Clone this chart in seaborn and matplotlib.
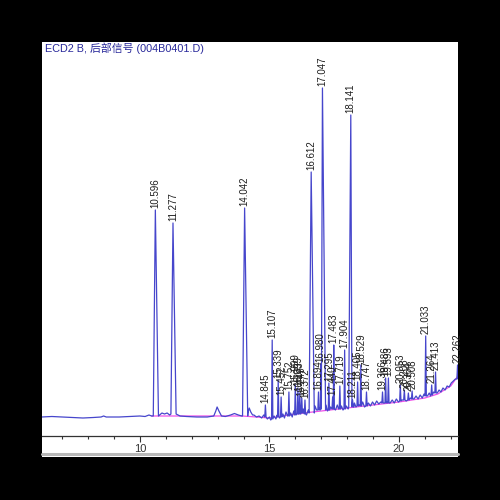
import matplotlib
matplotlib.use('Agg')
import matplotlib.pyplot as plt
from matplotlib.lines import Line2D
from matplotlib.patches import Rectangle
from matplotlib.ticker import MultipleLocator
import numpy as np
import pandas as pd
import seaborn as sns

# integrated peaks: retention time, apex signal, local baseline signal
peak_rt = [10.596, 11.277, 14.042, 14.845, 15.107, 15.339, 15.452, 15.752, 15.999,
           16.099, 16.173, 16.249, 16.372, 16.612, 16.894, 16.980, 17.047, 17.295,
           17.440, 17.483, 17.719, 17.904, 18.141, 18.211, 18.405, 18.529, 18.747,
           19.366, 19.486, 19.593, 20.053, 20.208, 20.364, 20.508, 21.033, 21.264,
           21.413, 22.262]
peak_top = [226, 213, 228, 31, 96, 56, 39, 44, 51,
            48, 43, 38, 36, 264, 44, 72, 348, 53,
            39, 91, 50, 86, 321, 36, 54, 71, 44,
            44, 58, 58, 51, 46, 43, 45, 100, 51,
            64, 71]
peak_foot = [20, 22, 20, 19, 17, 19, 19, 20, 21,
             22, 22, 23, 22, 23, 26, 27, 26, 26,
             27, 27, 27, 27, 29, 29, 30, 30, 30,
             33, 33, 33, 35, 36, 36, 37, 40, 41,
             43, 57]

# detector trace between the peaks
base_t = [6.20, 6.60, 7.00, 7.40, 7.80, 8.20, 8.50, 8.60, 8.70, 9.20, 9.60, 10.00,
          10.20, 10.35, 10.45, 10.85, 10.95, 11.05, 11.15, 11.55, 11.80, 12.20, 12.60,
          12.85, 12.93, 12.98, 13.05, 13.15, 13.30, 13.50, 13.65, 13.80, 13.93,
          14.17, 14.22, 14.28, 14.35, 14.40, 14.50, 14.60, 14.70, 14.78, 14.92,
          15.00, 15.05, 15.18, 15.25, 15.30, 15.39, 15.52, 15.58, 15.64, 15.70,
          15.82, 15.88, 15.94, 16.05, 16.14, 16.21, 16.31, 16.43, 16.50, 16.56,
          16.70, 16.76, 16.82, 16.94, 17.12, 17.18, 17.24, 17.36, 17.55, 17.62,
          17.67, 17.78, 17.84, 17.97, 18.04, 18.28, 18.34, 18.47, 18.60, 18.67,
          18.82, 18.90, 18.98, 19.06, 19.14, 19.22, 19.30, 19.42, 19.54, 19.66,
          19.74, 19.82, 19.90, 19.98, 20.12, 20.28, 20.44, 20.58, 20.66, 20.74,
          20.82, 20.90, 20.97, 21.10, 21.17, 21.22, 21.34, 21.48, 21.55, 21.62,
          21.70, 21.78, 21.86, 21.94, 22.02, 22.10, 22.18, 22.33]
base_v = [19, 19.5, 19, 18.5, 18, 18.5, 19, 20, 19, 19, 19.5, 20,
          19.5, 21, 20, 23, 22, 23, 21, 20, 19.5, 19, 19,
          20, 25, 29, 25, 20, 19.5, 21, 22.5, 21, 20,
          23, 28, 24, 21, 21, 19, 20, 18, 21, 17,
          19, 16, 20, 17, 21, 18, 22, 18, 24, 20,
          23, 19, 25, 22, 26, 22, 27, 21, 26, 23,
          25, 30, 26, 28, 27, 31, 25, 29, 26, 31,
          27, 30, 26, 30, 27, 33, 29, 31, 34, 29,
          33, 30, 34, 31, 35, 32, 34, 33, 34, 33,
          36, 33, 37, 34, 36, 35, 38, 37, 40, 37,
          41, 38, 42, 40, 43, 40, 44, 43, 46, 44,
          48, 46, 50, 49, 53, 55, 57, 64]

# integration baseline (magenta)
integ_t = [10.45, 11.55, 13.95, 14.50, 15.00, 16.00, 17.00, 18.00, 19.00,
           20.00, 21.00, 21.50, 22.00, 22.33]
integ_v = [20, 20, 20, 19, 18, 22, 25, 28, 31,
           34, 38, 42, 50, 62]

title = 'ECD2 B, 后部信号 (004B0401.D)'

# build the trace: baseline vertices outside peaks + triangular peaks
wl = [0.08 if h > 150 else 0.025 for h in peak_top]
wr = [0.12 if h > 150 else 0.025 for h in peak_top]
keep = [not any(r - a < t < r + b for r, a, b in zip(peak_rt, wl, wr)) for t in base_t]
pts_t = [t for t, k in zip(base_t, keep) if k]
pts_v = [v for v, k in zip(base_v, keep) if k]
for r, h, f, a, b in zip(peak_rt, peak_top, peak_foot, wl, wr):
    pts_t += [r - a, r, r + b]
    pts_v += [f, h, f]
trace = pd.DataFrame({'rt': pts_t, 'signal': pts_v}).sort_values('rt')
trace = trace.drop_duplicates('rt')
integ = pd.DataFrame({'rt': integ_t, 'signal': integ_v})

sns.set_style('white')
plt.rcParams['font.family'] = ['Liberation Sans', 'Noto Sans CJK SC', 'DejaVu Sans']

fig = plt.figure(figsize=(5, 5), dpi=100, facecolor='black')
fig.patches.append(Rectangle((42 / 500, 43 / 500), 416 / 500, 415 / 500,
                             transform=fig.transFigure, facecolor='white',
                             edgecolor='none', zorder=-5))
ax = fig.add_axes([42 / 500, 64 / 500, 416 / 500, 394 / 500])
ax.set_facecolor('white')
ax.set_zorder(2)

sns.lineplot(data=integ, x='rt', y='signal', ax=ax, color='#f050e8', lw=0.9,
             estimator=None, sort=False)
sns.lineplot(data=trace, x='rt', y='signal', ax=ax, color='#4646cc', lw=0.9,
             estimator=None, sort=False)

for r, h in zip(peak_rt, peak_top):
    ann = ax.annotate(f'{r:.3f}', (r, h), xytext=(0, 1.5), textcoords='offset points',
                      rotation=90, ha='center', va='bottom', fontsize=7, color='#1e1e1e')
    ann.set_clip_on(True)

ax.set_xlim(6.22, 22.28)
ax.set_ylim(0, 394)
ax.set_xlabel('')
ax.set_ylabel('')
ax.set_yticks([])
ax.xaxis.set_major_locator(MultipleLocator(5))
ax.xaxis.set_minor_locator(MultipleLocator(1))
ax.tick_params(axis='x', which='major', direction='out', length=4, width=0.8,
               color='#333333', labelsize=8, labelcolor='#333333', pad=2, bottom=True)
ax.tick_params(axis='x', which='minor', direction='out', length=2.5, width=0.8,
               color='#333333', bottom=True)
for side in ['top', 'left', 'right']:
    ax.spines[side].set_visible(False)
ax.spines['bottom'].set_color('#333333')
ax.spines['bottom'].set_linewidth(0.9)

fig.add_artist(Line2D([42 / 500, 458 / 500], [1 - 453.5 / 500] * 2,
                      transform=fig.transFigure, color='#b8b8b8', lw=2.2))
fig.text(45 / 500, 1 - 48 / 500, title, ha='left', va='center',
         fontsize=7.8, color='#28289a', zorder=5)

fig.savefig('out.png', dpi=100, facecolor='black')
